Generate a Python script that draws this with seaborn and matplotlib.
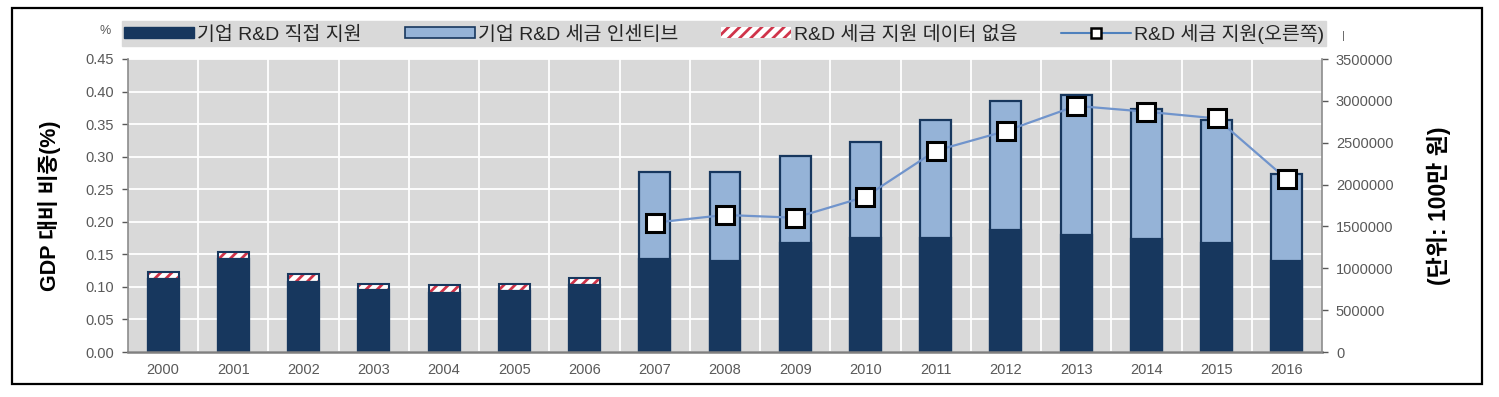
import numpy as np
import pandas as pd
import matplotlib
matplotlib.use("Agg")
import matplotlib.pyplot as plt
import seaborn as sns
from matplotlib.patches import Patch, Rectangle
from matplotlib.lines import Line2D

# ---------------- data ----------------
years = list(range(2000, 2017))
direct_support = [0.112, 0.143, 0.107, 0.095, 0.091, 0.093, 0.103,
                  0.143, 0.139, 0.167, 0.175, 0.175, 0.188, 0.180, 0.173, 0.168, 0.140]
tax_incentive = [np.nan] * 7 + [0.134, 0.138, 0.134, 0.147, 0.182, 0.197, 0.214, 0.200, 0.189, 0.134]
no_tax_data = [0.011, 0.010, 0.013, 0.010, 0.012, 0.011, 0.011] + [np.nan] * 10
line_years = list(range(2007, 2017))
tax_support_amount = [1545000, 1637000, 1604000, 1855000, 2405000,
                      2640000, 2940000, 2870000, 2790000, 2063000]
left_ticks = [0.00, 0.05, 0.10, 0.15, 0.20, 0.25, 0.30, 0.35, 0.40, 0.45]
right_ticks = [0, 500000, 1000000, 1500000, 2000000, 2500000, 3000000, 3500000]
legend_labels = ["기업 R&D 직접 지원", "기업 R&D 세금 인센티브",
                 "R&D 세금 지원 데이터 없음", "R&D 세금 지원(오른쪽)"]
left_label = "GDP 대비 비중(%)"
right_label = "(단위: 100만 원)"

# ---------------- style ----------------
NAVY = "#17375E"
LIGHT = "#95B3D7"
RED = "#D0344A"
LINE = "#7094CC"
BG = "#D9D9D9"
GREY = "#595959"

sns.set_theme(style="white")
plt.rcParams["font.family"] = ["Liberation Sans", "Noto Sans CJK KR"]
plt.rcParams["hatch.linewidth"] = 2.0

W, H = 1499, 397
fig = plt.figure(figsize=(W / 100, H / 100), dpi=100)
ax = fig.add_axes([128 / W, 1 - 352 / H, (1322 - 128) / W, (352 - 59) / H])

df = pd.DataFrame({"year": years, "direct": direct_support,
                   "tax": tax_incentive, "nodata": no_tax_data})
df["total_hatch"] = df["direct"] + df["nodata"]
df["total_light"] = df["direct"] + df["tax"]
early = df[df["nodata"].notna()]
late = df[df["tax"].notna()]

common = dict(x="year", native_scale=True, width=0.44, errorbar=None,
              saturation=1, ax=ax)

# hatched top segment (no data)
sns.barplot(data=early, y="total_hatch", color="white", edgecolor=RED,
            linewidth=0, hatch="///", **common)
# outline of hatched segment
n0 = len(ax.patches)
sns.barplot(data=early, y="total_hatch", color=NAVY, edgecolor=NAVY,
            linewidth=1.5, **common)
for p in ax.patches[n0:]:
    p.set_facecolor("none")
# tax incentive (light)
sns.barplot(data=late, y="total_light", color=LIGHT, edgecolor=NAVY,
            linewidth=1.6, **common)
# direct support
sns.barplot(data=df, y="direct", color=NAVY, edgecolor=NAVY,
            linewidth=1.6, **common)

ax.set_facecolor(BG)
ax.set_xlim(years[0] - 0.5, years[-1] + 0.5)
ax.set_ylim(left_ticks[0], left_ticks[-1])
ax.set_yticks(left_ticks)
ax.set_yticklabels([f"{t:.2f}" for t in left_ticks])
ax.set_xticks(years)
ax.set_xticklabels([str(y) for y in years])
ax.set_xticks([y + 0.5 for y in years[:-1]], minor=True)
ax.set_axisbelow(True)
ax.grid(axis="y", which="major", color="white", linewidth=1.3)
ax.grid(axis="x", which="minor", color="white", linewidth=1.3)
ax.grid(axis="x", which="major", visible=False)
ax.tick_params(axis="y", colors=GREY, labelsize=10.5, length=4, width=1,
               direction="out", left=True, pad=6)
ax.tick_params(axis="x", which="both", length=0, labelsize=10.5,
               labelcolor=GREY, pad=8)
ax.set_xlabel("")
ax.set_ylabel(left_label, fontsize=15.5, color="black", fontweight="bold")
ax.yaxis.set_label_coords(-0.056, 0.5)
for s in ["top", "right"]:
    ax.spines[s].set_visible(False)
ax.spines["left"].set_color("#8C8C8C")
ax.spines["bottom"].set_color("#808080")
ax.spines["left"].set_linewidth(1.2)
ax.spines["bottom"].set_linewidth(1.8)

# ---------------- line on right axis ----------------
ax2 = ax.twinx()
sns.lineplot(x=line_years, y=tax_support_amount, ax=ax2, color=LINE,
             linewidth=1.6, marker="s", markersize=13,
             markerfacecolor="white", markeredgecolor="black",
             markeredgewidth=2.2)
ax2.set_xlim(years[0] - 0.5, years[-1] + 0.5)
ax2.set_ylim(right_ticks[0], right_ticks[-1])
ax2.set_yticks(right_ticks)
ax2.set_yticklabels([str(t) for t in right_ticks])
ax2.tick_params(axis="y", colors=GREY, labelsize=10.5, length=4, width=1,
                direction="out", right=True, pad=6)
ax2.set_ylabel(right_label, fontsize=16.5, color="black", fontweight="bold",
               rotation=90)
ax2.yaxis.set_label_coords(1.088, 0.5)
for s in ["top", "left", "bottom"]:
    ax2.spines[s].set_visible(False)
ax2.spines["right"].set_color("#8C8C8C")
ax2.spines["right"].set_linewidth(1.2)
ax2.grid(False)
ax2.set_xlabel("")

# ---------------- legend ----------------
handles = [
    Patch(facecolor=NAVY, edgecolor=NAVY),
    Patch(facecolor=LIGHT, edgecolor=NAVY, linewidth=1.2),
    Patch(facecolor="white", edgecolor=RED, linewidth=0, hatch="///"),
    Line2D([], [], color="#4F81BD", linewidth=1.5, marker="s", markersize=7,
           markerfacecolor="white", markeredgecolor="black", markeredgewidth=1.8),
]
leg = fig.legend(handles, legend_labels, loc="lower left",
                 bbox_to_anchor=(122 / W, 1 - 46 / H, (1326 - 122) / W, 27 / H),
                 mode="expand", ncol=4, frameon=True, fancybox=False,
                 facecolor=BG, edgecolor=BG, framealpha=1, borderaxespad=0,
                 handlelength=3.6, handleheight=0.5, handletextpad=0.15,
                 columnspacing=0.3, borderpad=0.12, fontsize=14)
for t in leg.get_texts():
    t.set_color("#262626")

fig.text(105 / W, 1 - 31 / H, "%", fontsize=9, color=GREY, ha="center", va="center")
fig.text(1343 / W, 1 - 36 / H, "|", fontsize=8, color=GREY, ha="center", va="center")

# outer border
fig.add_artist(Rectangle((12 / W, 1 - 384 / H), (1482 - 12) / W, (384 - 8) / H,
                         transform=fig.transFigure, fill=False,
                         edgecolor="black", linewidth=1.6))

fig.savefig("out.png", dpi=100)
